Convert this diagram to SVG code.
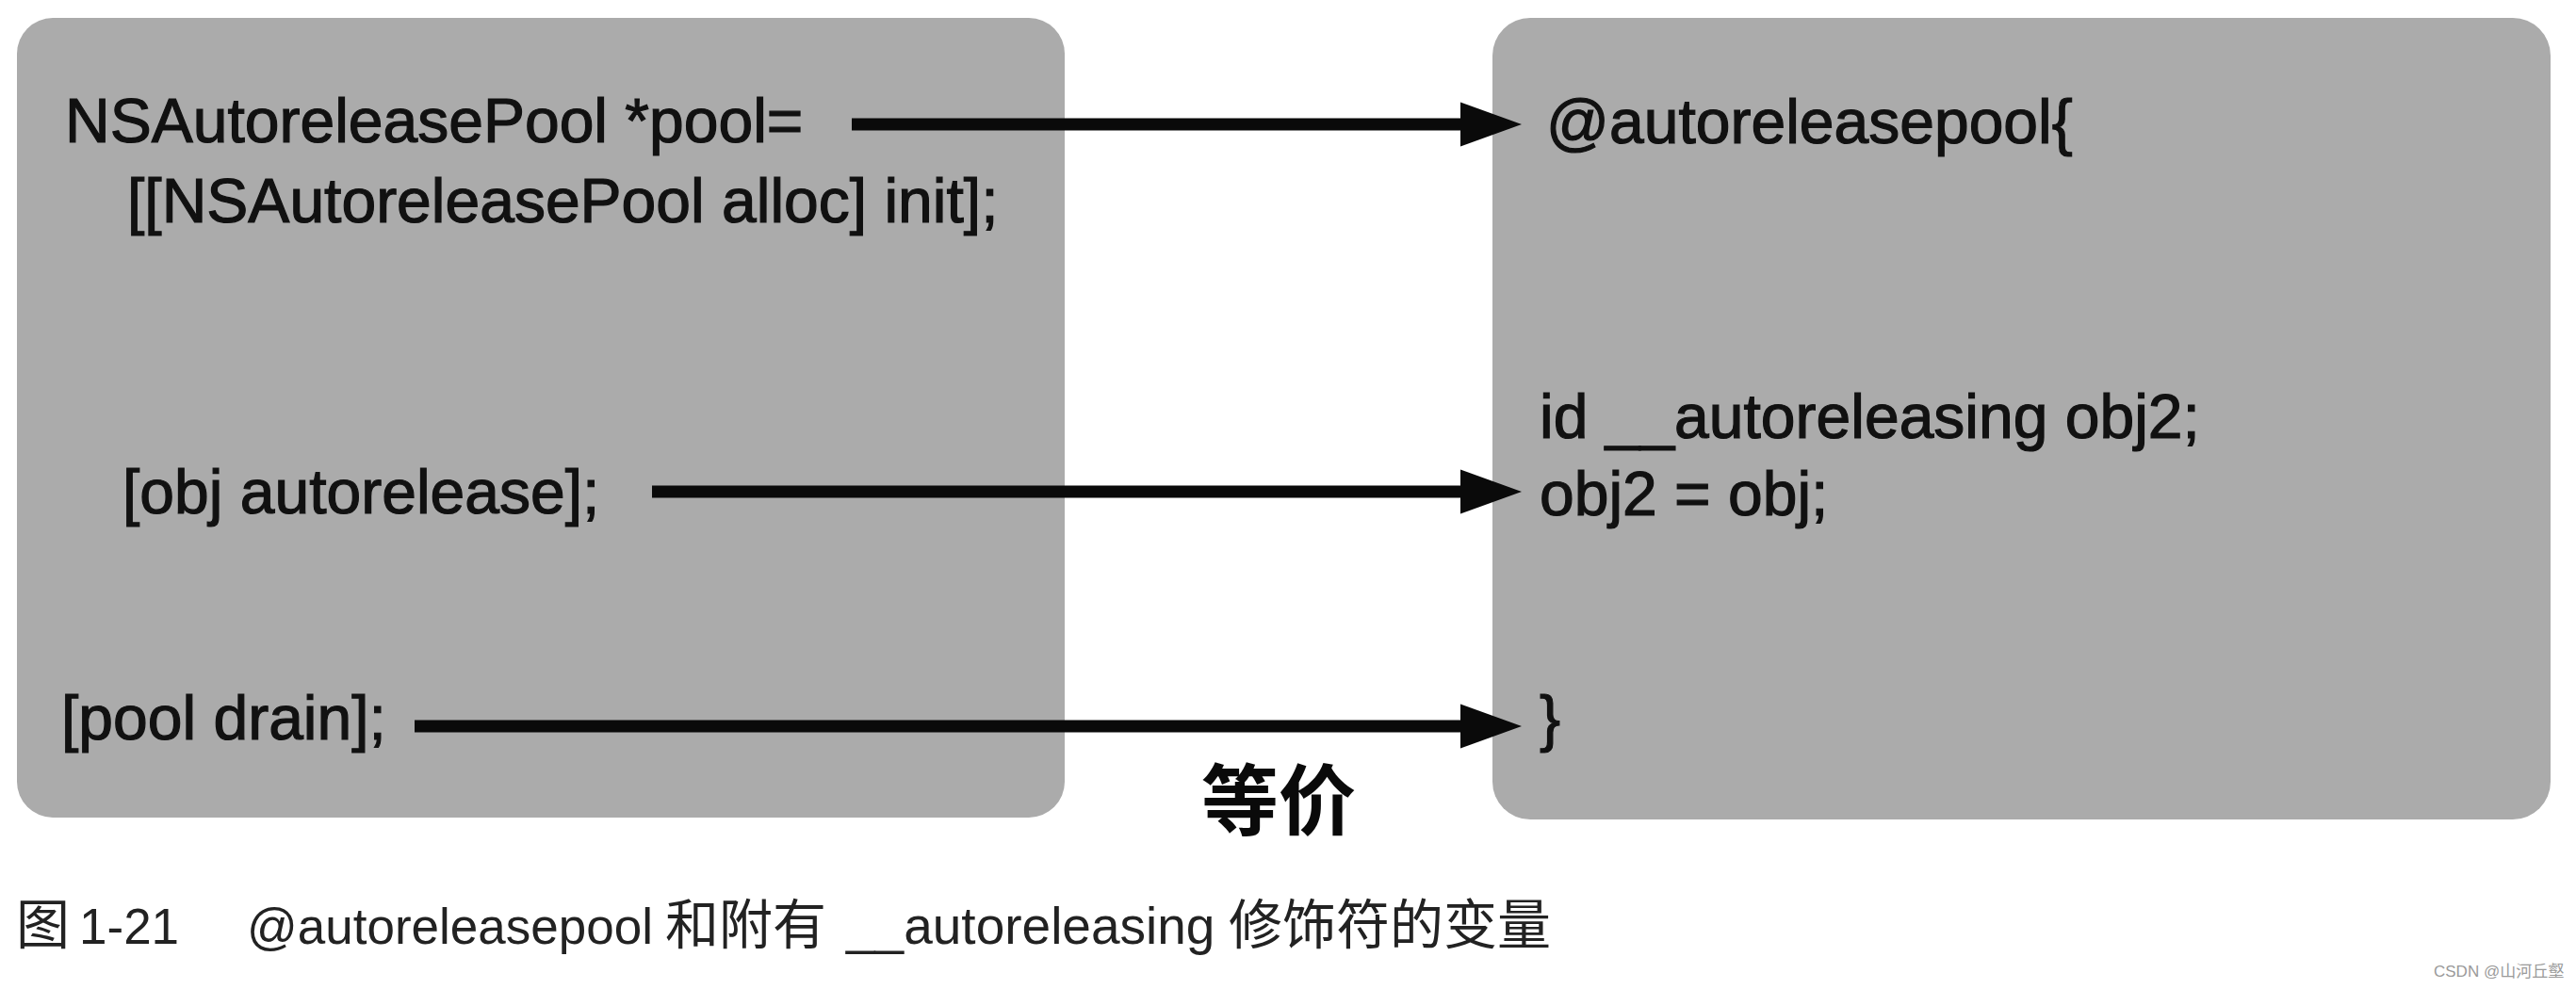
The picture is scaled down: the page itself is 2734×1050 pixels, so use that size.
<svg xmlns="http://www.w3.org/2000/svg" width="2734" height="1050" viewBox="0 0 2734 1050">
  <style>
    .box { fill: #ababab; }
    .code { font-family: "Liberation Sans", Arial, sans-serif; font-size: 66px; fill: #111111; stroke: #111111; stroke-width: 1.2px; }
    .conn { stroke: #0a0a0a; stroke-width: 13; fill: none; }
    .equiv { font-family: "Noto Sans CJK SC", sans-serif; font-size: 82px; font-weight: 700; fill: #0a0a0a; }
    .cap { font-family: "Liberation Sans", "Noto Sans CJK SC", sans-serif; fill: #222222; }
    .lat { font-size: 53px; }
    .lat2 { font-size: 55px; }
    .cjk { font-family: "Noto Sans CJK SC", sans-serif; font-size: 57px; }
    .mark { font-family: "Liberation Sans", "Noto Sans CJK SC", sans-serif; font-size: 17px; fill: #9a9a9a; }
  </style>
  <defs>
    <marker id="head" markerUnits="userSpaceOnUse" markerWidth="66" markerHeight="48" refX="10" refY="24" orient="auto">
      <path d="M0,0.5 L65,24 L0,47.5 Z" fill="#0a0a0a"/>
    </marker>
  </defs>
  <rect width="2734" height="1050" fill="#ffffff"/>

  <g id="left-node">
    <rect class="box" x="18" y="19" width="1112" height="849" rx="38" ry="38"/>
    <text class="code" x="69" y="151">NSAutoreleasePool *pool=</text>
    <text class="code" x="135" y="236">[[NSAutoreleasePool alloc] init];</text>
    <text class="code" x="130" y="545">[obj autorelease];</text>
    <text class="code" x="65" y="785">[pool drain];</text>
  </g>

  <g id="right-node">
    <rect class="box" x="1584" y="19" width="1123" height="851" rx="40" ry="40"/>
    <text class="code" x="1641" y="152">@autoreleasepool{</text>
    <text class="code" x="1634" y="465">id __autoreleasing obj2;</text>
    <text class="code" x="1634" y="547">obj2 = obj;</text>
    <text class="code" x="1634" y="785">}</text>
  </g>

  <g id="connectors">
    <line class="conn" x1="904" y1="132" x2="1560" y2="132" marker-end="url(#head)"/>
    <line class="conn" x1="692" y1="522" x2="1560" y2="522" marker-end="url(#head)"/>
    <line class="conn" x1="440" y1="771" x2="1560" y2="771" marker-end="url(#head)"/>
  </g>

  <g id="equiv-label">
    <text class="equiv" x="1357" y="880" text-anchor="middle">等价</text>
  </g>

  <g id="caption">
    <text class="cap" y="1002"><tspan class="cjk" x="17">图 </tspan><tspan class="lat" x="84">1-21 </tspan><tspan class="lat" x="262">@autoreleasepool </tspan><tspan class="cjk" x="706">和附有 </tspan><tspan class="lat2" x="898">__autoreleasing </tspan><tspan class="cjk" x="1304">修饰符的变量</tspan></text>
  </g>

  <g id="watermark">
    <text class="mark" x="2583" y="1037">CSDN @山河丘壑</text>
  </g>
</svg>
